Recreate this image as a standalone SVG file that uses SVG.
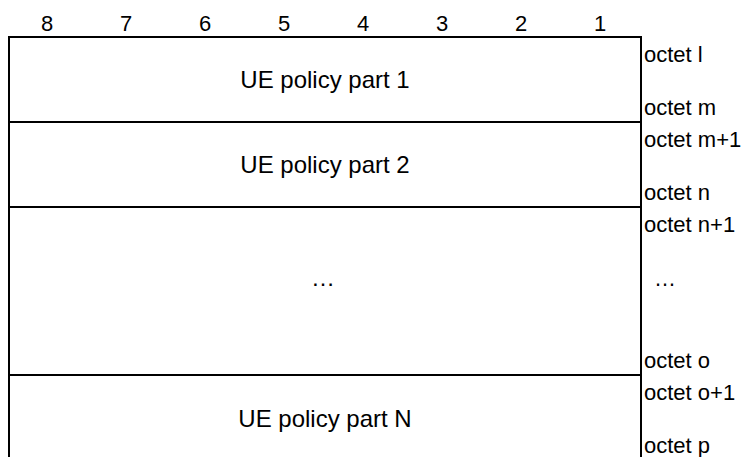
<svg xmlns="http://www.w3.org/2000/svg" width="752" height="457" viewBox="0 0 752 457">
<style>
text{font-family:"Liberation Sans",Arial,sans-serif;fill:#000}
.h{font-size:22px;text-anchor:middle}
.c{font-size:24px;text-anchor:middle}
.o{font-size:22px}
.ln{stroke:#000;stroke-width:2;fill:none}
</style>
<rect width="752" height="457" fill="#fff"/>
<g id="header">
<text class="h" x="47" y="31">8</text>
<text class="h" x="126" y="31">7</text>
<text class="h" x="205" y="31">6</text>
<text class="h" x="284" y="31">5</text>
<text class="h" x="363" y="31">4</text>
<text class="h" x="442" y="31">3</text>
<text class="h" x="521" y="31">2</text>
<text class="h" x="600" y="31">1</text>
</g>
<g id="connectors">
<path class="ln" d="M9 37H641M9 122H641M9 207H641M9 375H641M9 460H641M9 36V462M641 36V462"/>
</g>
<g id="part1">
<text class="c" x="325" y="88">UE policy part 1</text>
<text class="o" x="644" y="62">octet l</text>
<text class="o" x="644" y="115">octet m</text>
</g>
<g id="part2">
<text class="c" x="325" y="173">UE policy part 2</text>
<text class="o" x="644" y="147">octet m+1</text>
<text class="o" x="644" y="200">octet n</text>
</g>
<g id="partdots">
<text class="c" x="323" y="286">…</text>
<text class="o" x="654" y="286">…</text>
<text class="o" x="644" y="232">octet n+1</text>
<text class="o" x="644" y="368">octet o</text>
</g>
<g id="partN">
<text class="c" x="325" y="427">UE policy part N</text>
<text class="o" x="644" y="400">octet o+1</text>
<text class="o" x="644" y="453">octet p</text>
</g>
</svg>
